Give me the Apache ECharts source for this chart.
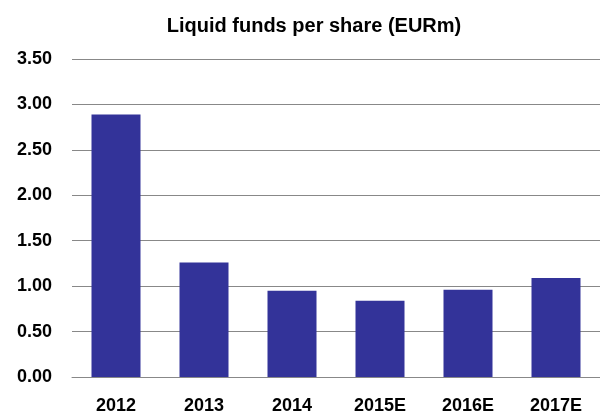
<!DOCTYPE html>
<html>
<head>
<meta charset="utf-8">
<script src="https://cdn.jsdelivr.net/npm/echarts@6/dist/echarts.min.js"></script>
<style>
  html, body { margin: 0; padding: 0; background: #fff; }
  #chart { width: 600px; height: 417px; }
</style>
</head>
<body>
<div id="chart"></div>
<script>
// Liquid funds per share, actuals 2012-2014 and estimates 2015E-2017E
const years = ['2012', '2013', '2014', '2015E', '2016E', '2017E']
const liquidFunds = [2.89, 1.26, 0.95, 0.84, 0.96, 1.09]

const font = 'Liberation Sans'
const chart = echarts.init(document.getElementById('chart'))
chart.setOption({
  animation: false,
  title: {
    text: 'Liquid funds per share (EURm)',
    left: 309,
    textAlign: 'center',
    top: 11,
    textStyle: { fontFamily: font, fontSize: 20, fontWeight: 'bold', color: '#000' },
  },
  grid: { left: 72, right: 0, top: 59, bottom: 40 },
  xAxis: {
    type: 'category',
    data: years,
    axisLine: { show: true, lineStyle: { color: '#888', width: 1 } },
    axisTick: { show: false },
    axisLabel: { margin: 20, fontFamily: font, fontSize: 18, fontWeight: 'bold', color: '#000' },
  },
  yAxis: {
    type: 'value',
    min: 0,
    max: 3.5,
    interval: 0.5,
    axisLine: { show: false },
    axisTick: { show: false },
    splitLine: { lineStyle: { color: '#888', width: 1 } },
    axisLabel: {
      margin: 20,
      formatter: (v) => v.toFixed(2),
      fontFamily: font, fontSize: 18, fontWeight: 'bold', color: '#000',
    },
  },
  series: [
    {
      type: 'bar',
      data: liquidFunds,
      barWidth: 49,
      itemStyle: { color: '#333399' },
    },
  ],
})
</script>
</body>
</html>
